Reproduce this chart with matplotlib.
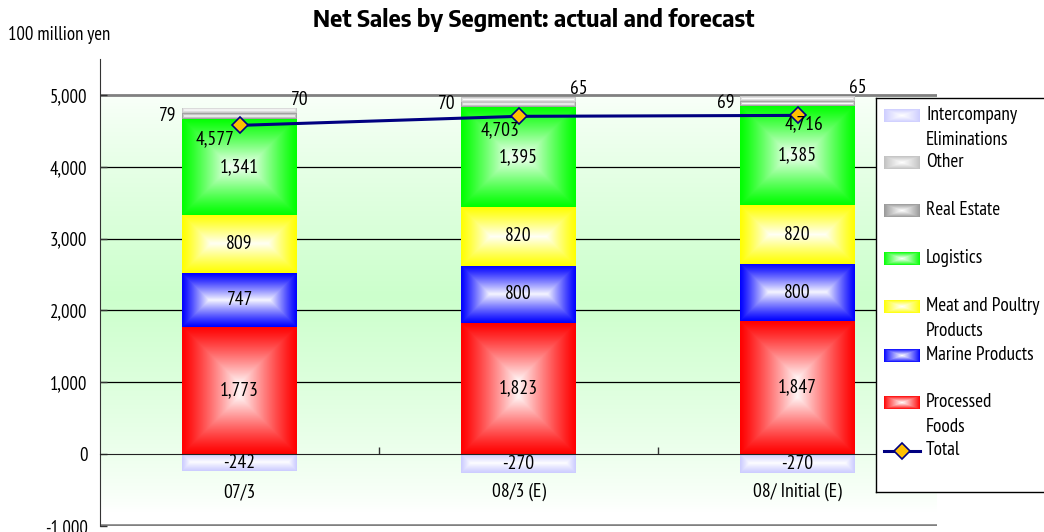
import os
import numpy as np
import matplotlib
matplotlib.use("Agg")
import matplotlib.pyplot as plt
from matplotlib import font_manager
from matplotlib.lines import Line2D
import matplotlib.colors as mcolors

# ---- data (100 million yen) ----
categories = ["07/3", "08/3 (E)", "08/ Initial (E)"]
processed_foods = [1773, 1823, 1847]
marine_products = [747, 800, 800]
meat_poultry = [809, 820, 820]
logistics = [1341, 1395, 1385]
real_estate = [79, 70, 69]
other = [70, 65, 65]
intercompany = [-242, -270, -270]
total = [4577, 4703, 4716]

yticks = [-1000, 0, 1000, 2000, 3000, 4000, 5000]

stack_values = [processed_foods, marine_products, meat_poultry, logistics,
                real_estate, other]
stack_colors = ["#FF0000", "#0000FF", "#FFFF00", "#00FF00", "#969696", "#C0C0C0"]
elim_color = "#CCCCFF"

legend_entries = [
    ("Intercompany\nEliminations", elim_color),
    ("Other", "#C0C0C0"),
    ("Real Estate", "#969696"),
    ("Logistics", "#00FF00"),
    ("Meat and Poultry\nProducts", "#FFFF00"),
    ("Marine Products", "#0000FF"),
    ("Processed\nFoods", "#FF0000"),
]

TITLE = "Net Sales by Segment: actual and forecast"
UNIT = "100 million yen"

W, H = 1044, 532
fig = plt.figure(figsize=(W / 100, H / 100), dpi=100)
fig.patch.set_facecolor("white")
renderer = fig.canvas.get_renderer()


def text_width(s, prop):
    return renderer.get_text_width_height_descent(s, prop, ismath=False)[0]


# ---- fonts: choose a narrow sans face, sized to the layout ----
available = {f.name for f in font_manager.fontManager.ttflist}
family = [f for f in ["Liberation Sans", "DejaVu Sans"] if f in available] or ["DejaVu Sans"]
plt.rcParams["font.family"] = family

bad_regular = ("italic", "oblique", "light", "thin", "medium", "semibold",
               "semi bold", "bold", "black", "heavy", "extrabold")
bad_bold = ("italic", "oblique", "light", "thin", "semibold", "semi bold",
            "black", "heavy", "extrabold", "extra bold")
regs, bolds = [], []
for f in font_manager.fontManager.ttflist:
    tag = (f.name + " " + os.path.basename(f.fname)).lower()
    if not ("narrow" in tag or "condensed" in tag):
        continue
    if f.style != "normal":
        continue
    wt = f.weight if isinstance(f.weight, int) else font_manager.weight_dict.get(f.weight, 400)
    if wt == 400 and not any(b in tag for b in bad_regular):
        regs.append(f.fname)
    elif wt == 700 and not any(b in tag for b in bad_bold):
        bolds.append(f.fname)

if regs:
    def score(fn):
        p = font_manager.FontProperties(fname=fn, size=14)
        return abs(text_width(UNIT, p) - 107)
    reg_prop = font_manager.FontProperties(fname=min(regs, key=score))
else:
    reg_prop = font_manager.FontProperties(family=family)
if bolds:
    def bscore(fn):
        p = font_manager.FontProperties(fname=fn, size=17)
        return abs(text_width(TITLE, p) - 442)
    bold_prop = font_manager.FontProperties(fname=min(bolds, key=bscore))
else:
    bold_prop = font_manager.FontProperties(family=family, weight="bold")

p14 = reg_prop.copy(); p14.set_size(14)
fs = float(np.clip(14 * 107 / text_width(UNIT, p14), 11, 15))
fs_tick = fs * 0.96
p14.set_size(fs)
fs_leg = float(min(fs, fs * 114 / text_width("Meat and Poultry", p14)))
pb = bold_prop.copy(); pb.set_size(17)
fs_title = float(np.clip(17 * 442 / text_width(TITLE, pb), 13, 19))


def fp(size):
    p = reg_prop.copy()
    p.set_size(size)
    return p


ylo, yhi = -1000, 5500
ax_left, ax_right = 100, 937
ax_top_px, ax_bot_px = 59.1, 525.8
ax = fig.add_axes([ax_left / W, (H - ax_bot_px) / H,
                   (ax_right - ax_left) / W, (ax_bot_px - ax_top_px) / H])
ax.set_facecolor("none")
xlo, xhi = -0.5, 2.5
px_x = (ax_right - ax_left) / (xhi - xlo)
px_y = (ax_bot_px - ax_top_px) / (yhi - ylo)


def center_gradient(color, w_px, h_px):
    """Rectangular gradient: saturated at the edges, white in the middle."""
    nx = max(int(round(w_px)), 2)
    ny = max(int(round(h_px)), 2)
    xs = np.arange(nx) + 0.5
    ys = np.arange(ny) + 0.5
    dx = np.minimum(xs, nx - xs)
    dy = np.minimum(ys, ny - ys)
    d = np.minimum(dx[None, :], dy[:, None])
    s = np.clip(d / min(nx / 2, ny / 2), 0, 1)
    w = (s ** 1.15)[..., None] * 0.96
    c = np.array(mcolors.to_rgb(color))
    return c * (1 - w) + w


def legend_gradient(color, nx=36, ny=13):
    xs = (np.arange(nx) + 0.5) / nx * 2 - 1
    ys = (np.arange(ny) + 0.5) / ny * 2 - 1
    t = np.maximum(np.abs(xs)[None, :], np.abs(ys)[:, None])
    w = (1 - t)[..., None] ** 0.9
    c = np.array(mcolors.to_rgb(color))
    return c * (1 - w) + w


# plot-area background: light green band fading to white
ys = np.linspace(5000, -1000, 300)
g = np.clip(1 - np.abs(ys - 2200) / 3000, 0, 1)[:, None, None] ** 0.8
bg_col = np.array(mcolors.to_rgb("#CCFFCC"))
bg = np.ones((300, 2, 3)) * (1 - g) + bg_col * g
ax.imshow(bg, extent=[xlo, xhi, -1000, 5000], aspect="auto",
          interpolation="bilinear", zorder=0)

# gridlines
for yv in yticks:
    if 0 < yv < 5000:
        ax.axhline(yv, color="black", lw=0.9, zorder=1)
ax.axhline(5000, color="#808080", lw=2.0, zorder=1)
ax.axhline(-1000, color="#808080", lw=2.6, zorder=1)

# stacked bars with gradient fill
x = np.arange(len(categories))
bw = 0.41
bottom = np.zeros(len(categories))
for vals, col in zip(stack_values, stack_colors):
    vals = np.array(vals, dtype=float)
    bars = ax.bar(x, vals, bw, bottom=bottom, color="none", edgecolor="none",
                  zorder=2)
    for rect, v in zip(bars, vals):
        x0, y0 = rect.get_x(), rect.get_y()
        img = center_gradient(col, bw * px_x, abs(v) * px_y)
        im = ax.imshow(img, extent=[x0, x0 + bw, y0, y0 + v], aspect="auto",
                       interpolation="bilinear", zorder=2)
        im.set_clip_path(rect)
    bottom += vals

elim = np.array(intercompany, dtype=float)
bars = ax.bar(x, elim, bw, bottom=0, color="none", edgecolor="none", zorder=2)
for rect, v in zip(bars, elim):
    x0 = rect.get_x()
    img = center_gradient(elim_color, bw * px_x, abs(v) * px_y)
    im = ax.imshow(img, extent=[x0, x0 + bw, v, 0], aspect="auto",
                   interpolation="bilinear", zorder=2)
    im.set_clip_path(rect)

# segment value labels
cum = np.zeros(len(categories))
for i, vals in enumerate(stack_values):
    vals = np.array(vals, dtype=float)
    for j in range(len(categories)):
        centre = cum[j] + vals[j] / 2
        if i < 4:
            ax.text(x[j], centre, f"{int(vals[j]):,}", fontproperties=fp(fs),
                    ha="center", va="center", zorder=5)
        elif i == 4:
            ax.annotate(f"{int(vals[j]):,}", xy=(x[j] - bw / 2, centre),
                        xytext=(-4, 0), textcoords="offset points",
                        fontproperties=fp(fs), ha="right", va="center", zorder=5)
        else:
            ax.annotate(f"{int(vals[j]):,}", xy=(x[j] + bw / 2, cum[j] + vals[j]),
                        xytext=(2, -1), textcoords="offset points",
                        fontproperties=fp(fs), ha="center", va="bottom", zorder=5)
    cum += vals
for j, v in enumerate(elim):
    ax.text(x[j], v / 2, f"{int(v):,}", fontproperties=fp(fs),
            ha="center", va="center", zorder=5)

# total line
ax.plot(x, total, color="#000080", lw=2.2, marker="D", ms=8.5,
        markerfacecolor="#FFC000", markeredgecolor="#000080",
        markeredgewidth=1.2, zorder=6)
total_offsets = [(-18, -10), (-13, -10), (5, -6.5)]
for j, v in enumerate(total):
    ax.annotate(f"{v:,}", xy=(x[j], v), xytext=total_offsets[j],
                textcoords="offset points", fontproperties=fp(fs),
                ha="center", va="center", zorder=7)

# category labels
for j, c in enumerate(categories):
    ax.text(x[j], -530, c, fontproperties=fp(fs), ha="center", va="center")

# axes styling
ax.set_xlim(xlo, xhi)
ax.set_ylim(ylo, yhi)
ax.set_yticks(yticks)
ax.set_yticklabels([f"{v:,}" for v in yticks], fontproperties=fp(fs_tick))
ax.tick_params(axis="y", direction="in", length=5, width=1, pad=9,
               color="#333333")
ax.set_xticks([0.5, 1.5, 2.5])
ax.set_xticklabels([])
ax.tick_params(axis="x", direction="in", length=5, width=1, color="#333333")
for s in ("top", "right"):
    ax.spines[s].set_visible(False)
ax.spines["bottom"].set_position(("data", 0))
ax.spines["bottom"].set_color("#222222")
ax.spines["bottom"].set_zorder(3)
ax.spines["left"].set_color("#333333")

# titles
tp = bold_prop.copy()
tp.set_size(fs_title)
fig.text(534 / W, 1 - 20 / H, TITLE, fontproperties=tp, ha="center", va="center")
fig.text(8 / W, 1 - 35 / H, UNIT, fontproperties=fp(fs_tick),
         ha="left", va="center")

# legend box (pixel coordinates, y pointing down)
lx0, ly0, ly1 = 876, 98, 492
lax = fig.add_axes([lx0 / W, (H - ly1) / H, 200 / W, (ly1 - ly0) / H])
lax.set_xticks([])
lax.set_yticks([])
lax.patch.set_facecolor("white")
for s in lax.spines.values():
    s.set_color("black")
    s.set_linewidth(1)
lax.set_zorder(10)

entry_y = [116, 163, 211, 259, 307, 356, 403]
for (label, col), yc in zip(legend_entries, entry_y):
    lax.imshow(legend_gradient(col), extent=[884, 920, yc + 6.5, yc - 6.5],
               aspect="auto", interpolation="bilinear")
    for k, line in enumerate(label.split("\n")):
        lax.text(926, yc - 1 + 25 * k, line, fontproperties=fp(fs_leg),
                 ha="left", va="center")
yt = 451
lax.add_line(Line2D([884, 920], [yt, yt], color="#000080", lw=2.2))
lax.plot([902], [yt], marker="D", ms=8.5, markerfacecolor="#FFC000",
         markeredgecolor="#000080", markeredgewidth=1.2)
lax.text(926, yt - 1, "Total", fontproperties=fp(fs_leg), ha="left", va="center")
lax.set_xlim(lx0, lx0 + 200)
lax.set_ylim(ly1, ly0)

fig.savefig("out.png", dpi=100, facecolor="white")
